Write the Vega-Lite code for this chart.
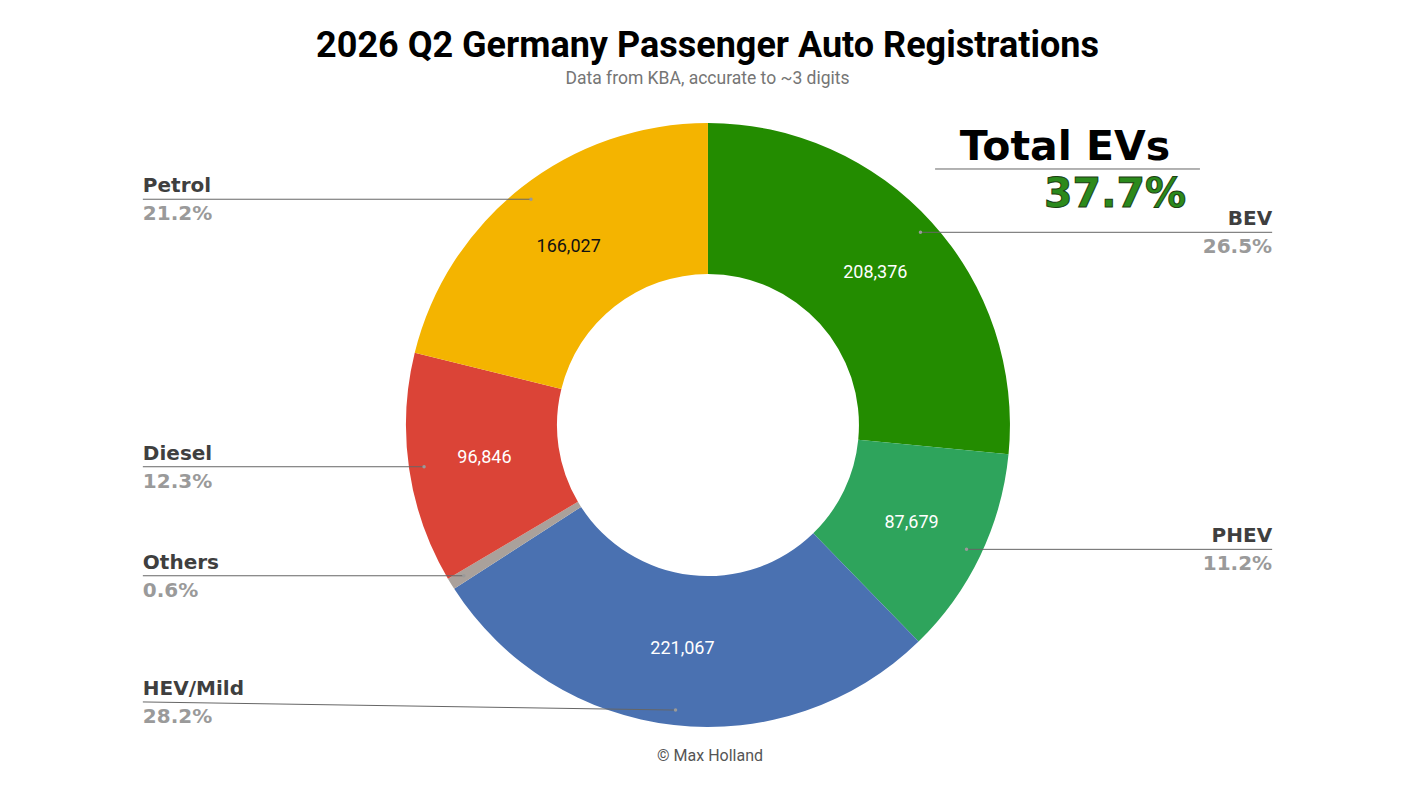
{
  "$schema": "https://vega.github.io/schema/vega-lite/v6.json",
  "width": 1415,
  "height": 787,
  "autosize": {"type": "fit", "contains": "padding"},
  "padding": {"top": 27, "left": 0, "right": 0, "bottom": 0},
  "background": "white",
  "config": {"view": {"stroke": null}},
  "title": {
    "text": "2026 Q2 Germany Passenger Auto Registrations",
    "subtitle": "Data from KBA, accurate to ~3 digits",
    "font": "Roboto",
    "fontSize": 36,
    "fontWeight": "bold",
    "color": "#000000",
    "subtitleFont": "Roboto",
    "subtitleFontSize": 17.5,
    "subtitleColor": "#757575",
    "subtitlePadding": 5,
    "anchor": "middle",
    "offset": 4
  },
  "data": {
    "values": [
      {"type": "BEV", "value": 208376},
      {"type": "PHEV", "value": 87679},
      {"type": "HEV/Mild", "value": 221067},
      {"type": "Others", "value": 4925},
      {"type": "Diesel", "value": 96846},
      {"type": "Petrol", "value": 166027}
    ]
  },
  "transform": [
    {"joinaggregate": [{"op": "sum", "field": "value", "as": "total"}]},
    {"window": [{"op": "row_number", "as": "rank"}, {"op": "sum", "field": "value", "as": "cum"}], "frame": [null, 0]},
    {"calculate": "2*PI*(datum.cum - datum.value/2)/datum.total", "as": "mid"},
    {"calculate": "datum.value/datum.total", "as": "share"},
    {"calculate": "0.95*sin(datum.mid)", "as": "px"},
    {"calculate": "0.95*cos(datum.mid)", "as": "py"},
    {"calculate": "0.748*sin(datum.mid)", "as": "vx"},
    {"calculate": "0.748*cos(datum.mid)", "as": "vy"},
    {"calculate": "datum.px >= 0 ? 'right' : 'left'", "as": "side"},
    {"calculate": "datum.px >= 0 ? 1.868 : -1.871", "as": "lx"},
    {"calculate": "max(datum.py, -0.917)", "as": "ly"}
  ],
  "layer": [
    {
      "mark": {"type": "arc", "innerRadius": 151, "outerRadius": 302},
      "encoding": {
        "theta": {"field": "value", "type": "quantitative", "stack": true},
        "order": {"field": "rank", "type": "quantitative"},
        "color": {
          "field": "type", "type": "nominal", "legend": null,
          "scale": {
            "domain": ["BEV", "PHEV", "HEV/Mild", "Others", "Diesel", "Petrol"],
            "range": ["#238c00", "#2ea45c", "#4a71b1", "#aaa19b", "#db4437", "#f4b400"]
          }
        },
        "x": {"datum": 0, "type": "quantitative", "axis": null, "scale": {"domain": [-2.344, 2.341], "nice": false, "zero": false}},
        "y": {"datum": 0, "type": "quantitative", "axis": null, "scale": {"domain": [-1.1987, 1.103], "nice": false, "zero": false}}
      }
    },
    {
      "mark": {"type": "rule", "color": "#666666", "strokeWidth": 1},
      "encoding": {
        "x": {"field": "lx", "type": "quantitative", "axis": null, "scale": {"domain": [-2.344, 2.341], "nice": false, "zero": false}},
        "x2": {"field": "px"},
        "y": {"field": "ly", "type": "quantitative", "axis": null, "scale": {"domain": [-1.1987, 1.103], "nice": false, "zero": false}},
        "y2": {"field": "py"}
      }
    },
    {
      "mark": {"type": "point", "filled": true, "size": 12, "color": "#9a9a9a", "opacity": 1},
      "encoding": {
        "x": {"field": "px", "type": "quantitative", "axis": null, "scale": {"domain": [-2.344, 2.341], "nice": false, "zero": false}},
        "y": {"field": "py", "type": "quantitative", "axis": null, "scale": {"domain": [-1.1987, 1.103], "nice": false, "zero": false}}
      }
    },
    {
      "transform": [{"filter": "datum.share >= 0.02"}],
      "mark": {"type": "text", "font": "Roboto", "fontSize": 18, "baseline": "middle", "align": "center"},
      "encoding": {
        "x": {"field": "vx", "type": "quantitative", "axis": null, "scale": {"domain": [-2.344, 2.341], "nice": false, "zero": false}},
        "y": {"field": "vy", "type": "quantitative", "axis": null, "scale": {"domain": [-1.1987, 1.103], "nice": false, "zero": false}},
        "text": {"field": "value", "type": "quantitative", "format": ",d"},
        "color": {"condition": {"test": "datum.type == 'Petrol'", "value": "#111111"}, "value": "#ffffff"}
      }
    },
    {
      "transform": [{"filter": "datum.side == 'left'"}],
      "mark": {"type": "text", "font": "DejaVu Sans", "fontWeight": "bold", "fontSize": 20, "align": "left", "baseline": "alphabetic", "dy": -7, "color": "#3f3f3f"},
      "encoding": {
        "x": {"field": "lx", "type": "quantitative", "axis": null, "scale": {"domain": [-2.344, 2.341], "nice": false, "zero": false}},
        "y": {"field": "ly", "type": "quantitative", "axis": null, "scale": {"domain": [-1.1987, 1.103], "nice": false, "zero": false}},
        "text": {"field": "type", "type": "nominal"}
      }
    },
    {
      "transform": [{"filter": "datum.side == 'left'"}],
      "mark": {"type": "text", "font": "DejaVu Sans", "fontWeight": "bold", "fontSize": 20, "align": "left", "baseline": "alphabetic", "dy": 21, "color": "#9a9a9a"},
      "encoding": {
        "x": {"field": "lx", "type": "quantitative", "axis": null, "scale": {"domain": [-2.344, 2.341], "nice": false, "zero": false}},
        "y": {"field": "ly", "type": "quantitative", "axis": null, "scale": {"domain": [-1.1987, 1.103], "nice": false, "zero": false}},
        "text": {"field": "share", "type": "quantitative", "format": ".1%"}
      }
    },
    {
      "transform": [{"filter": "datum.side == 'right'"}],
      "mark": {"type": "text", "font": "DejaVu Sans", "fontWeight": "bold", "fontSize": 20, "align": "right", "baseline": "alphabetic", "dy": -7, "color": "#3f3f3f"},
      "encoding": {
        "x": {"field": "lx", "type": "quantitative", "axis": null, "scale": {"domain": [-2.344, 2.341], "nice": false, "zero": false}},
        "y": {"field": "ly", "type": "quantitative", "axis": null, "scale": {"domain": [-1.1987, 1.103], "nice": false, "zero": false}},
        "text": {"field": "type", "type": "nominal"}
      }
    },
    {
      "transform": [{"filter": "datum.side == 'right'"}],
      "mark": {"type": "text", "font": "DejaVu Sans", "fontWeight": "bold", "fontSize": 20, "align": "right", "baseline": "alphabetic", "dy": 21, "color": "#9a9a9a"},
      "encoding": {
        "x": {"field": "lx", "type": "quantitative", "axis": null, "scale": {"domain": [-2.344, 2.341], "nice": false, "zero": false}},
        "y": {"field": "ly", "type": "quantitative", "axis": null, "scale": {"domain": [-1.1987, 1.103], "nice": false, "zero": false}},
        "text": {"field": "share", "type": "quantitative", "format": ".1%"}
      }
    },
    {
      "transform": [
        {"filter": "datum.type == 'BEV' || datum.type == 'PHEV'"},
        {"aggregate": [{"op": "sum", "field": "share", "as": "ev"}]}
      ],
      "layer": [
        {
          "mark": {"type": "text", "font": "DejaVu Sans", "fontWeight": "bold", "fontSize": 41, "align": "center", "baseline": "alphabetic", "color": "#000000"},
          "encoding": {
            "x": {"datum": 1.182, "type": "quantitative", "axis": null, "scale": {"domain": [-2.344, 2.341], "nice": false, "zero": false}},
            "y": {"datum": 0.878, "type": "quantitative", "axis": null, "scale": {"domain": [-1.1987, 1.103], "nice": false, "zero": false}},
            "text": {"value": "Total EVs"}
          }
        },
        {
          "mark": {"type": "rule", "color": "#666666", "strokeWidth": 1},
          "encoding": {
            "x": {"datum": 0.752, "type": "quantitative", "axis": null, "scale": {"domain": [-2.344, 2.341], "nice": false, "zero": false}},
            "x2": {"datum": 1.629},
            "y": {"datum": 0.848, "type": "quantitative", "axis": null, "scale": {"domain": [-1.1987, 1.103], "nice": false, "zero": false}}
          }
        },
        {
          "mark": {"type": "text", "font": "DejaVu Sans", "fontWeight": "bold", "fontSize": 41, "align": "center", "baseline": "alphabetic", "fill": "#2b8a1c", "stroke": "#1c3f12", "strokeWidth": 1},
          "encoding": {
            "x": {"datum": 1.348, "type": "quantitative", "axis": null, "scale": {"domain": [-2.344, 2.341], "nice": false, "zero": false}},
            "y": {"datum": 0.722, "type": "quantitative", "axis": null, "scale": {"domain": [-1.1987, 1.103], "nice": false, "zero": false}},
            "text": {"field": "ev", "type": "quantitative", "format": ".1%"}
          }
        },
        {
          "mark": {"type": "text", "font": "Roboto", "fontSize": 16, "align": "center", "baseline": "alphabetic", "color": "#555555"},
          "encoding": {
            "x": {"datum": 0.007, "type": "quantitative", "axis": null, "scale": {"domain": [-2.344, 2.341], "nice": false, "zero": false}},
            "y": {"datum": -1.113, "type": "quantitative", "axis": null, "scale": {"domain": [-1.1987, 1.103], "nice": false, "zero": false}},
            "text": {"value": "© Max Holland"}
          }
        }
      ]
    }
  ]
}
